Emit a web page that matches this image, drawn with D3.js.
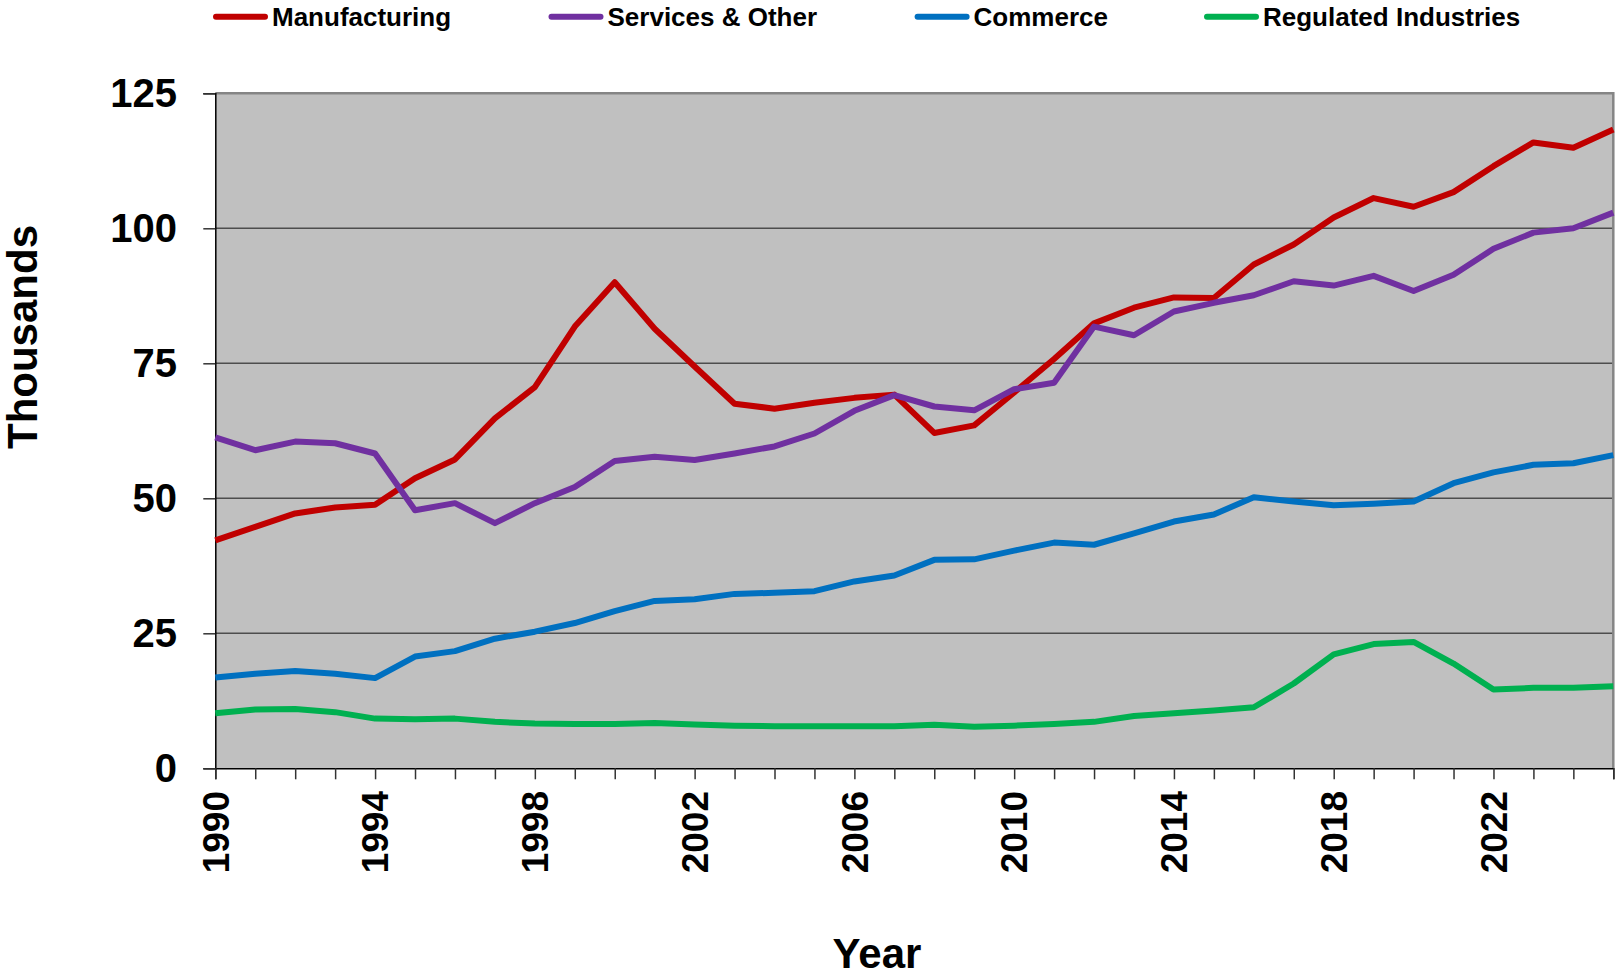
<!DOCTYPE html>
<html>
<head>
<meta charset="utf-8">
<script src="https://cdn.jsdelivr.net/npm/d3@7"></script>
<style>
  html, body { margin: 0; padding: 0; background: #fff; }
  svg { display: block; }
  .lbl { font-family: "Liberation Sans", Arial, sans-serif; font-weight: bold; fill: #000; }
  .leg { font-family: "Liberation Sans", Arial, sans-serif; font-weight: bold; fill: #000; }
</style>
</head>
<body>
<svg id="chart" width="1617" height="976"></svg>
<script>
const years = d3.range(1990, 2026);
const seriesNames = ["Manufacturing", "Services & Other", "Commerce", "Regulated Industries"];
const seriesColors = ["#C00000", "#7030A0", "#0070C0", "#00B050"];

const manufacturing = [42.2, 44.7, 47.2, 48.3, 48.8, 53.7, 57.2, 64.8, 70.6, 81.8, 90.0, 81.4, 74.4, 67.5, 66.6, 67.7, 68.6, 69.2, 62.1, 63.5, 69.6, 75.8, 82.4, 85.3, 87.2, 87.1, 93.3, 97.0, 102.0, 105.6, 104.0, 106.7, 111.5, 115.9, 114.9, 118.3];
const services = [61.3, 58.9, 60.5, 60.2, 58.3, 47.8, 49.1, 45.4, 49.1, 52.1, 56.9, 57.7, 57.1, 58.3, 59.6, 62.0, 66.2, 69.1, 67.0, 66.3, 70.2, 71.4, 81.8, 80.2, 84.6, 86.2, 87.6, 90.2, 89.4, 91.2, 88.4, 91.4, 96.2, 99.2, 100.0, 102.9];
const commerce = [16.8, 17.5, 18.0, 17.5, 16.7, 20.7, 21.7, 24.0, 25.3, 26.9, 29.1, 31.0, 31.3, 32.3, 32.5, 32.8, 34.6, 35.7, 38.6, 38.7, 40.3, 41.8, 41.4, 43.5, 45.7, 47.0, 50.2, 49.4, 48.7, 49.0, 49.4, 52.8, 54.8, 56.2, 56.5, 58.0];
const regulated = [10.2, 10.9, 11.0, 10.4, 9.2, 9.1, 9.2, 8.6, 8.3, 8.2, 8.2, 8.4, 8.1, 7.9, 7.8, 7.8, 7.8, 7.8, 8.05, 7.7, 7.9, 8.2, 8.6, 9.7, 10.2, 10.7, 11.3, 15.7, 21.1, 23.0, 23.4, 19.4, 14.6, 14.9, 14.9, 15.2];
const seriesValues = [manufacturing, services, commerce, regulated];

const yTicks = [0, 25, 50, 75, 100, 125];
const xLabelYears = [1990, 1994, 1998, 2002, 2006, 2010, 2014, 2018, 2022];
const yTitle = "Thousands";
const xTitle = "Year";

const svg = d3.select("#chart");
const L = 215.3, R = 1613.3, T = 93.3, B = 768.3;
const x = d3.scaleLinear().domain([1990, 2025]).range([L, R]);
const y = d3.scaleLinear().domain([0, 125]).range([B, T]);

// plot background
svg.append("rect").attr("x", L).attr("y", T).attr("width", R - L).attr("height", B - T)
  .attr("fill", "#C0C0C0");

// gridlines
svg.append("g").selectAll("line").data(yTicks.filter(d => d > 0 && d < 125)).join("line")
  .attr("x1", L).attr("x2", R).attr("y1", d => y(d)).attr("y2", d => y(d))
  .attr("stroke", "#4d4d4d").attr("stroke-width", 1.5);

// top and right border
svg.append("path")
  .attr("d", `M${L},${T}H${R}V${B}`)
  .attr("fill", "none").attr("stroke", "#858585").attr("stroke-width", 2.5);

// y axis
const yAxis = d3.axisLeft(y).tickValues(yTicks).tickSize(12).tickFormat("");
const gy = svg.append("g").attr("transform", `translate(${L},0)`).call(yAxis);
gy.select(".domain").attr("stroke", "#000").attr("stroke-width", 1.5);
gy.selectAll(".tick line").attr("stroke", "#333").attr("stroke-width", 1.5);

svg.append("g").selectAll("text").data(yTicks).join("text")
  .attr("class", "lbl")
  .attr("x", 177).attr("y", d => y(d)).attr("dy", "0.35em")
  .attr("text-anchor", "end").attr("font-size", 40)
  .text(d => d);

// x axis
const xAxis = d3.axisBottom(x).tickValues(years).tickSize(11).tickFormat("");
const gx = svg.append("g").attr("transform", `translate(0,${B})`).call(xAxis);
gx.select(".domain").attr("stroke", "#000").attr("stroke-width", 1.5);
gx.selectAll(".tick line").attr("stroke", "#333").attr("stroke-width", 1.5);

svg.append("g").selectAll("text").data(xLabelYears).join("text")
  .attr("class", "lbl")
  .attr("transform", d => `translate(${x(d) + 13.3},791) rotate(-90)`)
  .attr("text-anchor", "end").attr("font-size", 37)
  .text(d => d);

// lines
const line = d3.line().x((d, i) => x(years[i])).y(d => y(d));
seriesValues.forEach((vals, k) => {
  svg.append("path").datum(vals)
    .attr("d", line)
    .attr("fill", "none")
    .attr("stroke", seriesColors[k])
    .attr("stroke-width", 6)
    .attr("stroke-linejoin", "round");
});

// legend
const legX = [213, 548.5, 914.6, 1204];
seriesNames.forEach((name, k) => {
  svg.append("line").attr("x1", legX[k] + 3).attr("x2", legX[k] + 52)
    .attr("y1", 16.7).attr("y2", 16.7)
    .attr("stroke", seriesColors[k]).attr("stroke-width", 6).attr("stroke-linecap", "round");
  svg.append("text").attr("class", "leg")
    .attr("x", legX[k] + 59).attr("y", 25.5).attr("font-size", 26)
    .text(name);
});

// axis titles
svg.append("text").attr("class", "lbl")
  .attr("transform", "translate(37,337) rotate(-90)")
  .attr("text-anchor", "middle").attr("font-size", 42)
  .text(yTitle);
svg.append("text").attr("class", "lbl")
  .attr("x", 877).attr("y", 968)
  .attr("text-anchor", "middle").attr("font-size", 42)
  .text(xTitle);
</script>
</body>
</html>
